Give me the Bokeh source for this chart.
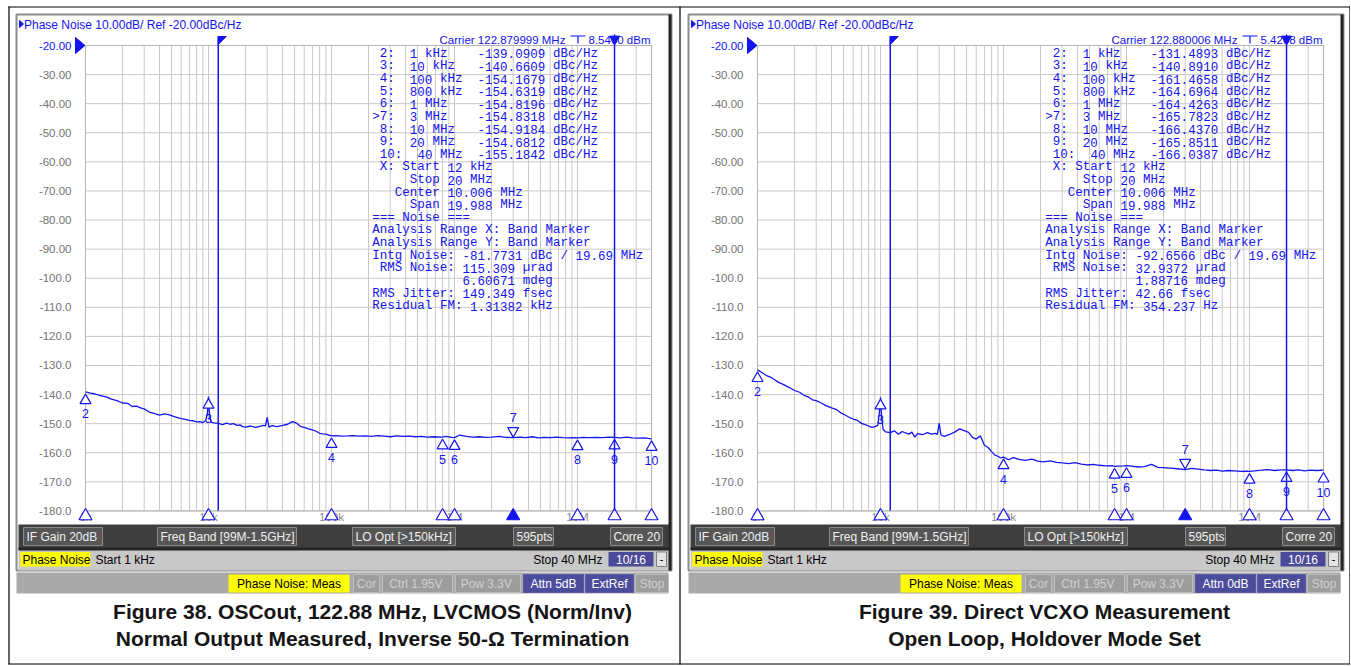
import re
from bokeh.plotting import figure
from bokeh.models import Range1d, LogScale
from bokeh.core.properties import value
from bokeh.embed import file_html
from bokeh.resources import INLINE

# ---------------- data ----------------
freq_khz = [1, 1.1, 1.2, 1.3, 1.4, 1.5, 1.6, 1.8, 2, 2.2,
            2.4, 2.6, 2.8, 3, 3.3, 3.6, 4, 4.4, 4.8, 5.2,
            5.6, 6, 6.5, 7, 7.5, 8, 8.5, 9, 9.5, 9.8,
            10, 10.2, 10.5, 11, 12, 13, 14, 15, 16, 17,
            18, 19, 20, 22, 24, 26, 28, 29, 30, 31,
            33, 36, 40, 44, 48, 52, 56, 60, 65, 70,
            75, 80, 85, 90, 95, 100, 110, 120, 135, 150,
            170, 190, 210, 240, 270, 300, 340, 380, 430, 480,
            540, 600, 680, 760, 800, 850, 950, 1000, 1100, 1250,
            1400, 1600, 1800, 2000, 2300, 2600, 3000, 3400, 3800, 4300,
            4800, 5400, 6000, 6800, 7600, 8500, 9500, 10000, 11000, 12500,
            14000, 16000, 18000, 20000, 22500, 25000, 28000, 31000, 35000, 40000]

trace_fig38 = [-139.1, -139.5, -139.8, -140.3, -140.6, -140.9, -141.5, -142.1, -142.9, -143.0,
               -144.1, -144.0, -144.6, -144.9, -146.0, -146.5, -147.1, -146.6, -147.0, -147.5,
               -147.9, -148.3, -148.5, -148.9, -149.0, -149.4, -149.3, -149.6, -148.9, -146.5,
               -140.7, -147.0, -149.5, -149.7, -149.9, -150.3, -149.8, -150.2, -150.0, -150.6,
               -150.4, -151.0, -151.2, -150.8, -151.3, -150.9, -150.6, -150.8, -147.8, -151.2,
               -150.7, -151.0, -150.6, -150.2, -149.3, -149.8, -151.0, -151.3, -151.8, -152.1,
               -152.6, -153.3, -153.5, -153.6, -153.9, -154.2, -154.1, -154.3, -154.2, -154.1,
               -154.3, -154.2, -154.4, -154.1, -154.3, -154.5, -154.2, -154.4, -154.3, -154.5,
               -154.4, -154.6, -154.5, -154.6, -154.6, -154.4, -154.7, -154.8, -153.9, -154.4,
               -154.6, -154.5, -154.7, -154.6, -154.4, -154.7, -154.8, -154.6, -154.8, -154.5,
               -154.9, -154.7, -154.8, -154.6, -154.8, -154.9, -154.8, -154.9, -154.7, -154.8,
               -154.7, -154.8, -154.6, -154.7, -154.9, -154.6, -154.9, -155.0, -154.9, -155.2]

trace_fig39 = [-131.5, -132.6, -133.6, -134.2, -135.1, -135.9, -136.4, -137.5, -138.6, -139.2,
               -140.3, -140.9, -141.8, -142.1, -142.9, -143.8, -144.6, -145.2, -146.4, -147.1,
               -147.9, -148.4, -148.9, -149.9, -150.3, -150.8, -151.3, -151.0, -150.6, -146.0,
               -140.9, -147.5, -152.0, -152.8, -153.1, -152.5, -153.6, -152.7, -153.2, -153.6,
               -152.9, -154.6, -153.4, -153.8, -153.1, -153.6, -153.3, -153.7, -149.8, -153.9,
               -154.4, -153.8, -152.9, -151.8, -152.4, -153.0, -154.7, -155.3, -154.2, -157.4,
               -158.2, -159.6, -160.8, -161.2, -161.8, -161.5, -162.4, -161.7, -162.3, -162.6,
               -162.2, -162.9, -163.1, -162.8, -163.3, -163.5, -163.7, -163.4, -163.9, -164.2,
               -164.0, -164.3, -164.5, -164.4, -164.7, -164.6, -164.5, -164.4, -164.6, -164.9,
               -164.8, -164.0, -165.0, -165.1, -165.3, -165.5, -165.8, -165.4, -165.6, -165.9,
               -166.1, -166.0, -166.3, -166.1, -166.2, -166.4, -166.3, -166.4, -166.2, -166.0,
               -165.8, -166.1, -165.9, -165.9, -166.1, -165.9, -166.2, -166.0, -166.1, -166.0]

marker_ids = ["2", "3", "4", "5", "6", "7", "8", "9", "10"]
marker_khz = [1, 10, 100, 800, 1000, 3000, 10000, 20000, 40000]
marker_freq_text = ["1 kHz", "10 kHz", "100 kHz", "800 kHz", "1 MHz", "3 MHz", "10 MHz", "20 MHz", "40 MHz"]
marker_fig38 = [-139.0909, -140.6609, -154.1679, -154.6319, -154.8196, -154.8318, -154.9184, -154.6812, -155.1842]
marker_fig39 = [-131.4893, -140.8910, -161.4658, -164.6964, -164.4263, -165.7823, -166.4370, -165.8511, -166.0387]
active_marker = "7"

band_khz = [12, 20000]

y_ticks_db = [-20, -30, -40, -50, -60, -70, -80, -90, -100, -110, -120, -130, -140, -150, -160, -170, -180]
y_tick_labels = ["-20.00", "-30.00", "-40.00", "-50.00", "-60.00", "-70.00", "-80.00", "-90.00", "-100.0",
                 "-110.0", "-120.0", "-130.0", "-140.0", "-150.0", "-160.0", "-170.0", "-180.0"]
x_label_khz = [1, 10, 100, 1000, 10000]
x_labels = ["1k", "10k", "100k", "1M", "10M"]

header_text = "Phase Noise 10.00dB/ Ref -20.00dBc/Hz"
carrier_fig38 = "Carrier 122.879999 MHz"
carrier_fig39 = "Carrier 122.880006 MHz"
power_fig38 = "8.5460 dBm"
power_fig39 = "5.4208 dBm"

band_lines = [" X: Start 12 kHz", "     Stop 20 MHz", "   Center 10.006 MHz", "     Span 19.988 MHz",
              "=== Noise ===", "Analysis Range X: Band Marker", "Analysis Range Y: Band Marker"]
noise_fig38 = ["Intg Noise: -81.7731 dBc / 19.69 MHz", " RMS Noise: 115.309 \u00b5rad",
               "            6.60671 mdeg", "RMS Jitter: 149.349 fsec", "Residual FM: 1.31382 kHz"]
noise_fig39 = ["Intg Noise: -92.6566 dBc / 19.69 MHz", " RMS Noise: 32.9372 \u00b5rad",
               "            1.88716 mdeg", "RMS Jitter: 42.66 fsec", "Residual FM: 354.237 Hz"]

status_buttons = ["IF Gain 20dB", "Freq Band [99M-1.5GHz]", "LO Opt [>150kHz]", "595pts", "Corre 20"]
start_text = "Start 1 kHz"
stop_text = "Stop 40 MHz"
page_text = "10/16"
meas_text = "Phase Noise: Meas"
bottom_buttons_fig38 = ["Cor", "Ctrl  1.95V", "Pow  3.3V", "Attn 5dB", "ExtRef", "Stop"]
bottom_buttons_fig39 = ["Cor", "Ctrl  1.95V", "Pow  3.3V", "Attn 0dB", "ExtRef", "Stop"]
bottom_enabled = [False, False, False, True, True, False]

caption_fig38 = ["Figure 38. OSCout, 122.88 MHz, LVCMOS (Norm/Inv)",
                 "Normal Output Measured, Inverse 50-\u03a9 Termination"]
caption_fig39 = ["Figure 39. Direct VCXO Measurement", "Open Loop, Holdover Mode Set"]

# ---------------- layout (page pixel coordinates) ----------------
W, H = 1350, 665
X_LO, X_HI = 0, W
Y_TOP, Y_BOT = 0, H
PPD = 123.0          # pixels per decade
ONE_KHZ_PX = 85.0    # pixel of 1 kHz in the left panel
DX = 672.0           # offset of right panel
DB_REF_PX = 45.0     # pixel row of -20 dB
PX_PER_DB = 2.909

BLUE = "#1414f0"
GRID = "#c8c8c8"

p = figure(width=W, height=H, x_range=Range1d(X_LO, X_HI), y_range=Range1d(Y_BOT, Y_TOP),
           output_backend="svg", toolbar_location=None, x_axis_type=None, y_axis_type=None,
           min_border=0)
p.outline_line_color = None
p.background_fill_color = "white"
p.border_fill_color = "white"


def frange(one_khz_px):
    return Range1d(10 ** ((X_LO - one_khz_px) / PPD), 10 ** ((X_HI - one_khz_px) / PPD))


p.extra_x_ranges = {"fL": frange(ONE_KHZ_PX), "fR": frange(ONE_KHZ_PX + DX)}
p.extra_x_scales = {"fL": LogScale(), "fR": LogScale()}
p.extra_y_ranges = {"db": Range1d(-20 - (Y_BOT - DB_REF_PX) / PX_PER_DB, -20 + (DB_REF_PX - Y_TOP) / PX_PER_DB)}


def px_db(px):
    return px / PX_PER_DB


def txt(x, y, s, size=12.0, color="black", align="left", font="Liberation Sans", bold=False,
        xr="default", yr="default", baseline="middle"):
    if not isinstance(x, list):
        x, y, s = [x], [y], [s]
    p.text(x=x, y=y, text=s, x_range_name=xr, y_range_name=yr,
           text_font=value(font), text_font_size=value(f"{size}px"),
           text_font_style="bold" if bold else "normal", text_color=color,
           text_align=align, text_baseline=baseline)


def box(l, r, t, b, fill, line=None, lw=1):
    p.quad(left=[l], right=[r], top=[t], bottom=[b], fill_color=fill,
           line_color=line, line_width=lw)


CW = 7.53
LINE_H = 12.62


def mono_block(x0, y0, lines):
    xs, ys, ss = [], [], []
    for i, line in enumerate(lines):
        for m in re.finditer(r"\S+", line):
            xs.append(x0 + m.start() * CW)
            ys.append(y0 + i * LINE_H)
            ss.append(m.group())
    txt(xs, ys, ss, size=12.5, color=BLUE, font="Liberation Mono")


grid_khz = [m * 10 ** d for d in range(0, 5) for m in range(1, 10) if m * 10 ** d <= 40000]


def panel(dx, xr, trace, mvals, carrier, power, noise_lines, bottom_btns, captions):
    # window
    box(16 + dx, 671 + dx, 14, 570, "white", "#8c8c8c", 2)
    # header
    p.patch([19 + dx, 23 + dx, 19 + dx], [20, 23.5, 27], color=BLUE)
    txt(23.5 + dx, 24, header_text, size=12, color=BLUE)

    # grid
    p.segment(x0=grid_khz, y0=[DB_REF_PX] * len(grid_khz), x1=grid_khz, y1=[510.5] * len(grid_khz),
              x_range_name=xr, line_color=GRID, line_width=1)
    p.segment(x0=[1] * len(y_ticks_db), y0=y_ticks_db, x1=[40000] * len(y_ticks_db), y1=y_ticks_db,
              x_range_name=xr, y_range_name="db", line_color=GRID, line_width=1)
    p.quad(left=[1], right=[40000], top=[-20], bottom=[-180], x_range_name=xr, y_range_name="db",
           fill_color=None, line_color="#b4b4b4", line_width=1)

    # y labels
    cols = [BLUE] + ["#747474"] * (len(y_tick_labels) - 1)
    p.text(x=[71 + dx] * len(y_ticks_db), y=y_ticks_db, text=y_tick_labels, y_range_name="db",
           text_font=value("Liberation Sans"), text_font_size=value("11.5px"), text_color=cols,
           text_align="right", text_baseline="middle")
    p.patch([75 + dx, 84.5 + dx, 75 + dx], [-20 + px_db(8), -20, -20 - px_db(8)], y_range_name="db", color=BLUE)

    # bottom decade labels
    txt(x_label_khz, [516] * len(x_labels), x_labels, size=11.5, color="#8c8c8c", align="center", xr=xr)

    # trace
    p.line(freq_khz, trace, x_range_name=xr, y_range_name="db", line_color=BLUE, line_width=1.3)

    # markers on trace
    normal = [i for i, m in enumerate(marker_ids) if m != active_marker]
    act = [i for i, m in enumerate(marker_ids) if m == active_marker]
    p.scatter([marker_khz[i] for i in normal], [mvals[i] - px_db(8.5) for i in normal], marker="triangle",
              size=11, x_range_name=xr, y_range_name="db", fill_color="white", line_color=BLUE, line_width=1.2)
    txt([marker_khz[i] for i in normal], [mvals[i] - px_db(22) for i in normal], [marker_ids[i] for i in normal],
        size=12.5, color=BLUE, align="center", xr=xr, yr="db")
    p.scatter([marker_khz[i] for i in act], [mvals[i] + px_db(7) for i in act], marker="inverted_triangle",
              size=11, x_range_name=xr, y_range_name="db", fill_color="white", line_color=BLUE, line_width=1.2)
    txt([marker_khz[i] for i in act], [mvals[i] + px_db(20) for i in act], [marker_ids[i] for i in act],
        size=12.5, color=BLUE, align="center", xr=xr, yr="db")

    # bottom marker triangles
    fills = [BLUE if m == active_marker else "white" for m in marker_ids]
    p.scatter(marker_khz, [515.5] * len(marker_khz), marker="triangle", size=13, x_range_name=xr,
              fill_color=fills, line_color=BLUE, line_width=1.2)

    # text block
    block = []
    for mid, ftxt, v in zip(marker_ids, marker_freq_text, mvals):
        pre = (">" if mid == active_marker else " ") + mid + ":"
        s = pre.ljust(5 if len(mid) == 1 else 6) + ftxt
        block.append(s.ljust(14) + f"{v:.4f}" + " dBc/Hz")
    block += band_lines + noise_lines
    mono_block(371.7 + dx + (1 if dx else 0), 53.3, block)

    # carrier line
    txt(439 + dx, 39.5, carrier, size=11.5, color=BLUE)
    txt(588 + dx, 39.5, power, size=11.5, color=BLUE)
    p.segment(x0=[570 + dx, 577.5 + dx], y0=[35.5, 35.5], x1=[585 + dx, 577.5 + dx], y1=[35.5, 43],
              line_color=BLUE, line_width=1.2)

    # band marker lines
    p.segment(x0=band_khz, y0=[36, 34], x1=band_khz, y1=[510, 510], x_range_name=xr,
              line_color=BLUE, line_width=1.5)
    f0 = band_khz[0]
    p.patch([f0, f0 * 10 ** (8 / PPD), f0], [36, 36, 44], x_range_name=xr, color=BLUE)
    p.scatter([band_khz[1]], [38.5], marker="inverted_triangle", size=10, x_range_name=xr, color=BLUE)

    # status band
    box(18 + dx, 669 + dx, 524, 549, "#3e3e3e", None)
    btn_x = [(23, 102), (157, 296), (352, 455), (513, 553), (610, 662)]
    for (l, r), s in zip(btn_x, status_buttons):
        box(l + dx, r + dx, 527, 545, "#565656", "#8a8a8a")
        txt(l + dx + 3, 536.5, s, size=12, color="#f0f0f0")
    box(18 + dx, 669 + dx, 549, 570, "#c8c8c8", None)
    box(20 + dx, 90 + dx, 551.5, 566, "#ffff00", None)
    txt(22 + dx, 559, "Phase Noise", size=12, color="black")
    txt(95 + dx, 559, start_text, size=12, color="black")
    txt(602 + dx, 559, stop_text, size=12, color="black", align="right")
    box(608 + dx, 653 + dx, 551.5, 566, "#4a4a98", None)
    txt(630.5 + dx, 559, page_text, size=12, color="white", align="center")
    box(656 + dx, 666 + dx, 551.5, 566, "#e4e4e4", "#808080")
    txt(661 + dx, 558.5, "-", size=11, color="black", align="center")
    # dark frame edges
    p.segment(x0=[669.5 + dx, 18 + dx], y0=[14, 548.5], x1=[669.5 + dx, 669 + dx], y1=[570, 548.5],
              line_color="#262626", line_width=3)

    # bottom bar
    box(16 + dx, 668 + dx, 572, 593, "#a9a9a9", None)
    box(228 + dx, 349 + dx, 574, 592, "#ffff00", None)
    txt(288.5 + dx, 583, meas_text, size=12, color="black", align="center")
    bx = [(353, 379), (382, 452), (455, 520), (523, 583), (585, 633), (635, 668)]
    for (l, r), s, en in zip(bx, bottom_btns, bottom_enabled):
        box(l + dx, r + dx, 574, 592, "#4c4c9c" if en else "#9d9d9d", "#5a5aa8" if en else "#bdbdbd")
        txt((l + r) / 2 + dx, 583, s, size=12, color="white" if en else "#cfcfcf", align="center")

    # captions
    txt([372 + dx, 372 + dx], [611, 638], captions, size=21, color="#141414", bold=True, align="center")


panel(0, "fL", trace_fig38, marker_fig38, carrier_fig38, power_fig38, noise_fig38, bottom_buttons_fig38, caption_fig38)
panel(DX, "fR", trace_fig39, marker_fig39, carrier_fig39, power_fig39, noise_fig39, bottom_buttons_fig39, caption_fig39)

# outer border and divider
p.segment(x0=[8.5, 8, 679.5, 1349.5, 8], y0=[6, 6.5, 6, 6, 663.5], x1=[8.5, 1350, 679.5, 1349.5, 1350],
          y1=[664, 6.5, 664, 664, 663.5], line_color="black", line_width=1.2)

open("out.html", "w").write(file_html(p, INLINE))
